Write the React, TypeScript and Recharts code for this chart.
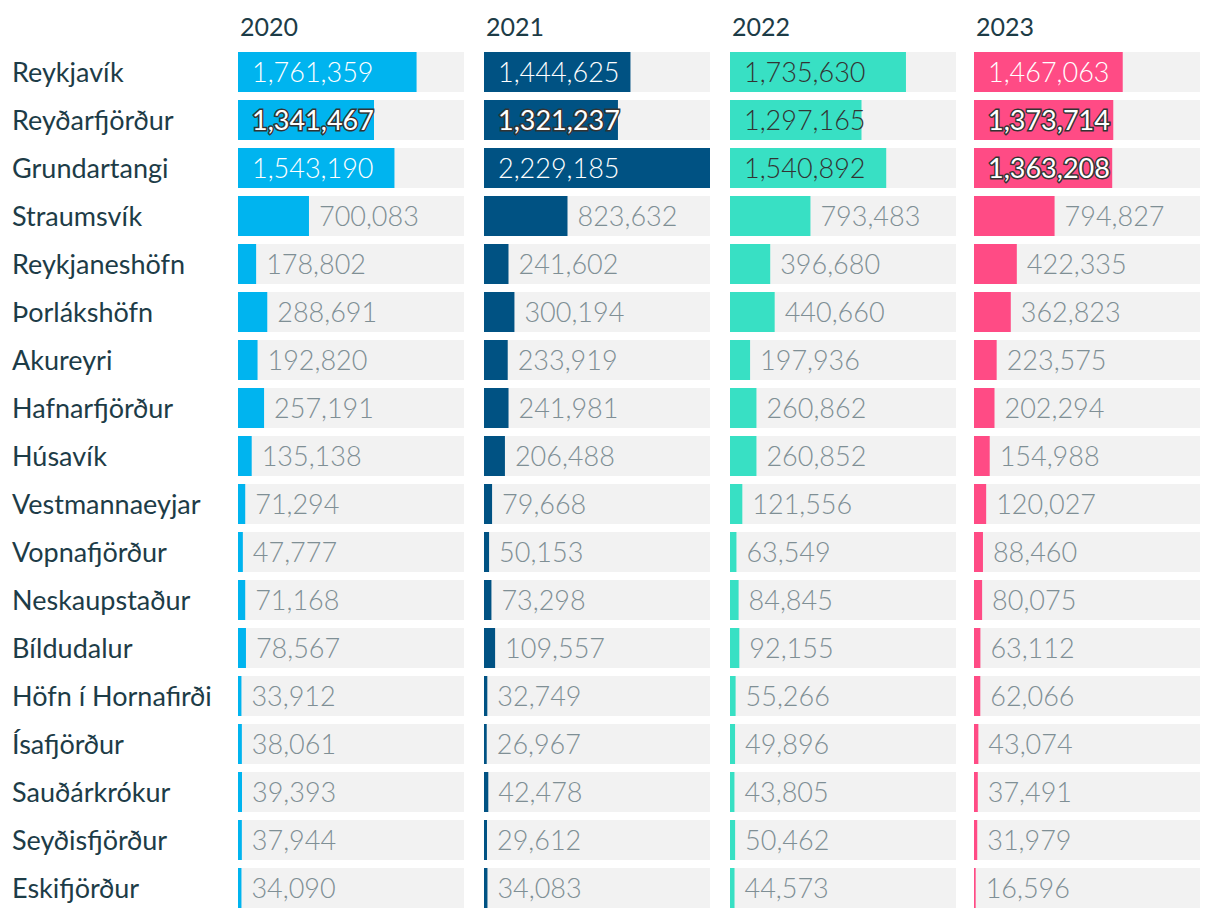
import { BarChart, Bar, XAxis, YAxis, LabelList } from 'recharts'

const ports = [
	'Reykjavík', 'Reyðarfjörður', 'Grundartangi', 'Straumsvík', 'Reykjaneshöfn', 'Þorlákshöfn',
	'Akureyri', 'Hafnarfjörður', 'Húsavík', 'Vestmannaeyjar', 'Vopnafjörður', 'Neskaupstaður',
	'Bíldudalur', 'Höfn í Hornafirði', 'Ísafjörður', 'Sauðárkrókur', 'Seyðisfjörður', 'Eskifjörður',
]

const years = ['2020', '2021', '2022', '2023']

const values2020 = [1761359, 1341467, 1543190, 700083, 178802, 288691, 192820, 257191, 135138, 71294, 47777, 71168, 78567, 33912, 38061, 39393, 37944, 34090]
const values2021 = [1444625, 1321237, 2229185, 823632, 241602, 300194, 233919, 241981, 206488, 79668, 50153, 73298, 109557, 32749, 26967, 42478, 29612, 34083]
const values2022 = [1735630, 1297165, 1540892, 793483, 396680, 440660, 197936, 260862, 260852, 121556, 63549, 84845, 92155, 55266, 49896, 43805, 50462, 44573]
const values2023 = [1467063, 1373714, 1363208, 794827, 422335, 362823, 223575, 202294, 154988, 120027, 88460, 80075, 63112, 62066, 43074, 37491, 31979, 16596]

const maxValue = 2229185

// styling
const colors = ['#00b4ef', '#005283', '#38e0c4', '#ff4b85']
const insideText = ['#ffffff', '#ffffff', '#333333', '#ffffff']
const haloCells = ['2020|Reyðarfjörður', '2021|Reyðarfjörður', '2023|Reyðarfjörður', '2023|Grundartangi']
const lefts = [238, 484, 730, 974]
const font = 'Lato, "Noto Sans", sans-serif'
const dark = '#1d3c47'

function YearChart({ idx, values }: { idx: number; values: number[] }) {
	const year = years[idx]
	const data = ports.map((p, i) => ({ port: p, value: values[i] }))
	const first = idx === 0
	const width = first ? lefts[0] + 226 : 226

	const renderLabel = (props: any) => {
		const { x, y, width: w, height: h, value, index } = props
		const port = ports[index]
		const txt = Number(value).toLocaleString('en-US')
		const inside = value >= 1000000
		const cy = Number(y) + Number(h) / 2 + 10
		if (inside) {
			const halo = haloCells.includes(`${year}|${port}`)
			return (
				<text
					x={Number(x) + 14}
					y={cy}
					fontFamily={font}
					fontSize={27}
					fontWeight={halo ? 400 : 300}
					fill={halo ? '#ffffff' : insideText[idx]}
					stroke={halo ? '#333333' : 'none'}
					strokeWidth={halo ? 3 : 0}
					paintOrder="stroke"
				>
					{txt}
				</text>
			)
		}
		return (
			<text
				x={Number(x) + Number(w) + 10}
				y={cy}
				fontFamily={font}
				fontSize={27}
				fontWeight={300}
				fill="#7f8f95"
			>
				{txt}
			</text>
		)
	}

	return (
		<div style={{ position: 'absolute', top: 0, left: first ? 0 : lefts[idx] }}>
			<BarChart
				width={width}
				height={918}
				data={data}
				layout="vertical"
				margin={{ top: 48, right: 0, bottom: 6, left: 0 }}
				barCategoryGap={8}
			>
				<XAxis type="number" domain={[0, maxValue]} hide />
				{first ? (
					<YAxis
						type="category"
						dataKey="port"
						width={lefts[0]}
						axisLine={false}
						tickLine={false}
						interval={0}
						tick={(t: any) => (
							<text x={12} y={t.y} dy={9.5} fontFamily={font} fontSize={27} fill={dark}>
								{t.payload.value}
							</text>
						)}
					/>
				) : (
					<YAxis type="category" dataKey="port" hide />
				)}
				<Bar
					dataKey="value"
					fill={colors[idx]}
					barSize={40}
					background={{ fill: '#f2f2f2' }}
					isAnimationActive={false}
				>
					<LabelList dataKey="value" content={renderLabel} />
				</Bar>
			</BarChart>
		</div>
	)
}

export default function App() {
	const series = [values2020, values2021, values2022, values2023]
	return (
		<div style={{ position: 'absolute', top: 0, left: 0, width: 1220, height: 918, background: '#fff' }}>
			{series.map((v, i) => (
				<YearChart key={years[i]} idx={i} values={v} />
			))}
			<svg width={1220} height={48} style={{ position: 'absolute', top: 0, left: 0 }}>
				{years.map((y, i) => (
					<text key={y} x={lefts[i] + 2} y={36} fontFamily={font} fontSize={25} fontWeight={400} fill={dark}>
						{y}
					</text>
				))}
			</svg>
		</div>
	)
}
